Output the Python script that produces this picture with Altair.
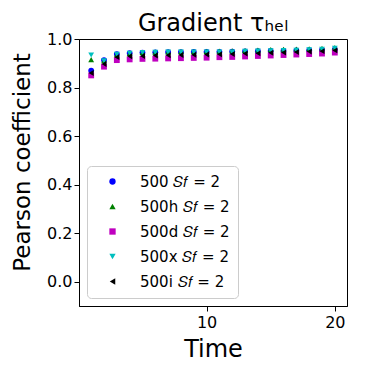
import altair as alt
import pandas as pd

times = list(range(1, 21))
labels = ["500 𝑆𝑓 = 2", "500h 𝑆𝑓 = 2", "500d 𝑆𝑓 = 2", "500x 𝑆𝑓 = 2", "500i 𝑆𝑓 = 2"]
colors = ["#0000ff", "#008000", "#bf00bf", "#00bfbf", "#000000"]
shapes = ["circle", "triangle-up", "square", "triangle-down", "triangle-left"]

s500 = [0.870, 0.913, 0.938, 0.942, 0.944, 0.945, 0.946, 0.946, 0.947, 0.947,
        0.947, 0.948, 0.949, 0.950, 0.951, 0.952, 0.953, 0.954, 0.955, 0.957]
s500h = [0.915, 0.910, 0.935, 0.940, 0.944, 0.946, 0.947, 0.948, 0.948, 0.949,
         0.950, 0.951, 0.953, 0.955, 0.957, 0.958, 0.959, 0.960, 0.962, 0.965]
s500d = [0.850, 0.886, 0.913, 0.916, 0.918, 0.919, 0.920, 0.921, 0.922, 0.923,
         0.925, 0.926, 0.928, 0.930, 0.932, 0.934, 0.936, 0.938, 0.940, 0.944]
s500x = [0.934, 0.910, 0.937, 0.941, 0.944, 0.945, 0.946, 0.946, 0.946, 0.946,
         0.946, 0.946, 0.949, 0.950, 0.952, 0.953, 0.954, 0.956, 0.958, 0.962]
s500i = [0.860, 0.897, 0.925, 0.929, 0.930, 0.932, 0.933, 0.934, 0.935, 0.936,
         0.937, 0.938, 0.940, 0.941, 0.943, 0.944, 0.946, 0.948, 0.950, 0.953]

series = [s500, s500h, s500d, s500x, s500i]
rows = []
for k, (lab, vals) in enumerate(zip(labels, series)):
    for t, v in zip(times, vals):
        rows.append({"Time": t, "r": v, "series": lab, "order": k})
df = pd.DataFrame(rows)

FONT = "DejaVu Sans"

chart = alt.Chart(df).mark_point(filled=True, size=34, opacity=1).encode(
    x=alt.X("Time:Q", scale=alt.Scale(domain=[0.05, 20.95], nice=False, zero=False),
            axis=alt.Axis(values=[10, 20], title="Time", grid=False, labelFontSize=16,
                          titleFontSize=24, titleFontWeight="normal", tickSize=5,
                          labelPadding=3, titlePadding=7, domainColor="black",
                          tickColor="black", labelColor="black", titleColor="black")),
    y=alt.Y("r:Q", scale=alt.Scale(domain=[-0.1, 1.0], nice=False, zero=False),
            axis=alt.Axis(values=[0.0, 0.2, 0.4, 0.6, 0.8, 1.0], format=".1f",
                          title="Pearson coefficient", grid=False, labelFontSize=16,
                          titleFontSize=23, titleFontWeight="normal", tickSize=5,
                          labelPadding=2, titlePadding=12, titleY=123,
                          domainColor="black",
                          tickColor="black", labelColor="black", titleColor="black")),
    color=alt.Color("series:N", scale=alt.Scale(domain=labels, range=colors),
                    legend=alt.Legend(title=None, orient="bottom-left", offset=8,
                                      labelFontSize=15, labelFont=FONT, symbolSize=40,
                                      rowPadding=9, padding=8, labelOffset=20,
                                      strokeColor="#cccccc", fillColor="white",
                                      cornerRadius=4, labelColor="black", symbolOffset=10)),
    shape=alt.Shape("series:N", scale=alt.Scale(domain=labels, range=shapes), legend=None),
    order=alt.Order("order:Q"),
).properties(
    width=268, height=267,
    title=alt.TitleParams("Gradient τₕₑₗ", fontSize=24, fontWeight="normal", font=FONT,
                          color="black", offset=5, dy=10),
    autosize=alt.AutoSizeParams(type="none"),
    padding={"left": 71, "top": 31, "right": 19, "bottom": 60},
).configure(font=FONT).configure_view(stroke="black", strokeWidth=1)

chart.save("out.html", embed_options={"renderer": "svg", "actions": False})
